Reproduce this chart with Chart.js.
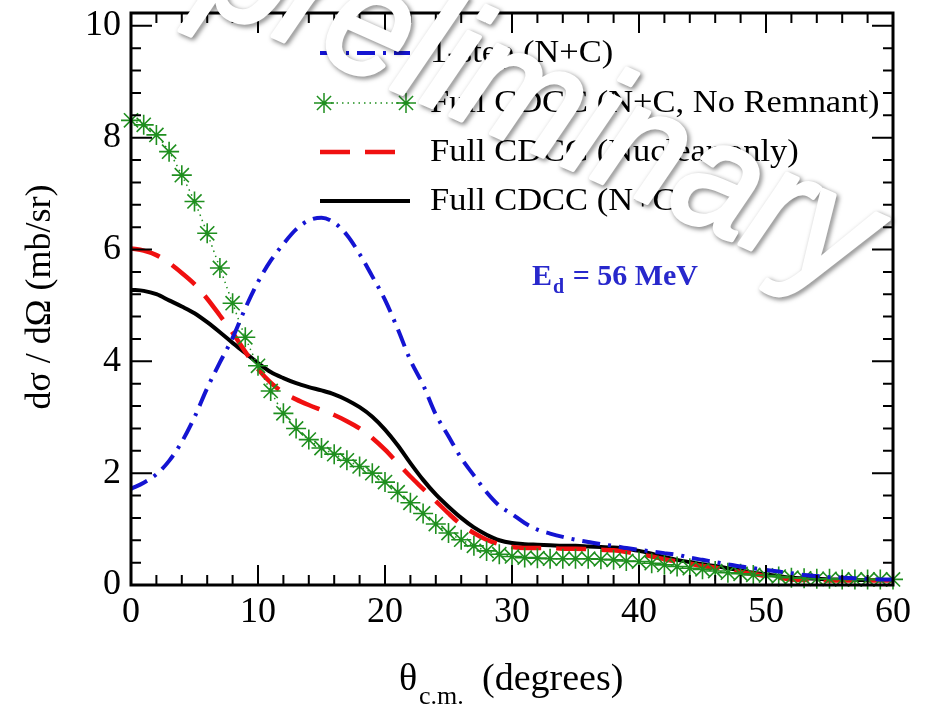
<!DOCTYPE html>
<html>
<head>
<meta charset="utf-8">
<script src="https://cdn.jsdelivr.net/npm/chart.js@4/dist/chart.umd.min.js"></script>
<style>
html,body{margin:0;padding:0;background:#fff;}
#wrap{width:929px;height:706px;position:relative;}
</style>
</head>
<body>
<div id="wrap"><canvas id="c" width="929" height="706"></canvas></div>
<script>
// ---- data ----
const theta = [0,1,2,3,4,5,6,7,8,9,10,11,12,13,14,15,16,17,18,19,20,21,22,23,24,25,26,27,28,29,30,31,32,33,34,35,36,37,38,39,40,41,42,43,44,45,46,47,48,49,50,51,52,53,54,55,56,57,58,59,60];
const oneStep = [1.72,1.83,1.98,2.22,2.56,3.00,3.52,3.98,4.42,4.95,5.42,5.80,6.10,6.36,6.52,6.57,6.48,6.26,5.92,5.52,5.10,4.58,4.02,3.58,3.05,2.66,2.27,1.96,1.66,1.42,1.27,1.11,0.99,0.92,0.86,0.81,0.77,0.73,0.70,0.66,0.63,0.60,0.57,0.54,0.49,0.45,0.41,0.37,0.33,0.30,0.27,0.24,0.21,0.18,0.16,0.14,0.13,0.12,0.11,0.10,0.10];
const noRemnant = [8.31,8.23,8.05,7.75,7.33,6.86,6.29,5.67,5.04,4.43,3.92,3.47,3.07,2.80,2.60,2.45,2.34,2.23,2.12,2.00,1.84,1.66,1.47,1.28,1.09,0.93,0.81,0.70,0.61,0.55,0.51,0.49,0.48,0.47,0.47,0.47,0.47,0.46,0.45,0.43,0.42,0.39,0.36,0.33,0.30,0.28,0.25,0.22,0.20,0.18,0.17,0.15,0.13,0.12,0.11,0.11,0.10,0.10,0.10,0.10,0.10];
const nuclearOnly = [6.02,5.98,5.90,5.76,5.58,5.38,5.12,4.82,4.51,4.17,3.86,3.62,3.44,3.32,3.22,3.13,3.04,2.93,2.80,2.63,2.42,2.18,1.94,1.72,1.50,1.28,1.08,0.93,0.81,0.73,0.68,0.66,0.66,0.66,0.65,0.65,0.64,0.63,0.62,0.59,0.55,0.51,0.46,0.42,0.38,0.34,0.31,0.27,0.23,0.20,0.16,0.13,0.10,0.09,0.09,0.08,0.08,0.08,0.08,0.08,0.08];
const fullNC = [5.28,5.26,5.20,5.09,4.98,4.86,4.70,4.52,4.33,4.15,3.97,3.81,3.70,3.61,3.54,3.48,3.41,3.31,3.18,3.01,2.78,2.50,2.18,1.88,1.62,1.40,1.20,1.03,0.90,0.80,0.75,0.73,0.72,0.71,0.70,0.70,0.69,0.68,0.67,0.65,0.61,0.56,0.50,0.45,0.41,0.37,0.34,0.30,0.26,0.22,0.19,0.16,0.13,0.12,0.11,0.10,0.10,0.09,0.09,0.09,0.09];
const seriesLabels = ["1-step (N+C)","Full CDCC (N+C, No Remnant)","Full CDCC (Nuclear only)","Full CDCC (N+C)"];
const xTicks = [0,10,20,30,40,50,60];
const yTicks = [0,2,4,6,8,10];
const xRange = [0,60];
const yRange = [0,10.23];
const energyLabel = ["E","d"," = 56 MeV"];
const watermarkText = "preliminary";

const pts = arr => theta.map((t,i)=>({x:t,y:arr[i]}));
const SERIF = '"Liberation Serif","DejaVu Serif",serif';
const BLUE = '#1414d2', GREEN = '#1f8f1f', RED = '#f01010', BLACK = '#000';

const datasets = [
  {label:seriesLabels[0], data:pts(oneStep), borderColor:BLUE, borderWidth:4, borderDash:[18,8,3,8], pointRadius:0, tension:0.4, cubicInterpolationMode:'monotone', fill:false},
  {label:seriesLabels[1], data:pts(noRemnant), borderColor:GREEN, borderWidth:1.5, borderDash:[1.5,4], pointStyle:'star', pointRadius:10, pointBorderColor:GREEN, pointBorderWidth:1.6, pointBackgroundColor:GREEN, tension:0.4, cubicInterpolationMode:'monotone', fill:false, clip:false},
  {label:seriesLabels[2], data:pts(nuclearOnly), borderColor:RED, borderWidth:4.5, borderDash:[30,15], pointRadius:0, tension:0.4, cubicInterpolationMode:'monotone', fill:false},
  {label:seriesLabels[3], data:pts(fullNC), borderColor:BLACK, borderWidth:4, pointRadius:0, tension:0.4, cubicInterpolationMode:'monotone', fill:false}
];

const framePlugin = {
  id:'frame',
  afterDatasetsDraw(chart){
    const {ctx, chartArea:a, scales:{x,y}} = chart;
    ctx.save();
    ctx.strokeStyle='#000';
    ctx.lineWidth=2;
    ctx.beginPath();
    for(let k=0; k<=30; k++){
      const v = xRange[0]+k*2;
      const px = x.getPixelForValue(v);
      const len = (k%5===0)?20:10;
      ctx.moveTo(px,a.bottom); ctx.lineTo(px,a.bottom-len);
      ctx.moveTo(px,a.top); ctx.lineTo(px,a.top+len);
    }
    for(let k=0; k<=25; k++){
      const v = k*0.4;
      const py = y.getPixelForValue(v);
      const len = (k%5===0)?21:10;
      ctx.moveTo(a.left,py); ctx.lineTo(a.left+len,py);
      ctx.moveTo(a.right,py); ctx.lineTo(a.right-len,py);
    }
    ctx.stroke();
    ctx.lineWidth=3;
    ctx.strokeRect(a.left,a.top,a.right-a.left,a.bottom-a.top);
    ctx.restore();
  },
  afterDraw(chart){
    const {ctx} = chart;
    ctx.save();
    // axis titles
    ctx.fillStyle='#000';
    ctx.textBaseline='alphabetic';
    ctx.textAlign='left';
    ctx.font='38px '+SERIF;
    ctx.fillText('θ',399,690);
    ctx.font='26px '+SERIF;
    ctx.fillText('c.m.',419,704);
    ctx.font='38px '+SERIF;
    ctx.fillText('(degrees)',482,690);
    ctx.save();
    ctx.translate(41,297);
    ctx.rotate(-Math.PI/2);
    ctx.textAlign='center';
    ctx.textBaseline='middle';
    ctx.font='36px '+SERIF;
    ctx.fillText('dσ / dΩ (mb/sr)',0,0);
    ctx.restore();

    // legend
    const rows=[53,103,152,201];
    ctx.font='31px '+SERIF;
    const sx = 257/ctx.measureText(seriesLabels[3]).width;
    chart.data.datasets.forEach((ds,i)=>{
      const yy=rows[i];
      ctx.save();
      ctx.strokeStyle=ds.borderColor;
      ctx.lineWidth=ds.borderWidth;
      ctx.setLineDash(ds.borderDash||[]);
      ctx.beginPath(); ctx.moveTo(320,yy); ctx.lineTo(410,yy); ctx.stroke();
      ctx.setLineDash([]);
      if(ds.pointStyle==='star'){
        ctx.strokeStyle=ds.pointBorderColor;
        [324,406].forEach(px=>{
          Chart.helpers.drawPoint(ctx,{pointStyle:'star',radius:10,borderWidth:1.6},px,yy);
        });
      }
      ctx.restore();
      ctx.save();
      ctx.fillStyle='#000';
      ctx.font='31px '+SERIF;
      ctx.textAlign='left';
      ctx.textBaseline='middle';
      ctx.translate(430,yy+1);
      ctx.scale(sx,1);
      ctx.fillText(ds.label,0,0);
      ctx.restore();
    });

    // energy label
    ctx.fillStyle='#2828cc';
    ctx.textBaseline='alphabetic';
    ctx.textAlign='left';
    ctx.font='bold 30px '+SERIF;
    ctx.fillText(energyLabel[0],532,285);
    let w=ctx.measureText(energyLabel[0]).width;
    ctx.font='bold 20px '+SERIF;
    ctx.fillText(energyLabel[1],532+w+1,293);
    let w2=ctx.measureText(energyLabel[1]).width;
    ctx.font='bold 30px '+SERIF;
    ctx.fillText(energyLabel[2],532+w+w2+2,285);

    // watermark
    ctx.save();
    ctx.translate(196,2);
    ctx.rotate(24*Math.PI/180);
    ctx.scale(1,1.08);
    ctx.font='italic 146px "Liberation Sans","DejaVu Sans",sans-serif';
    ctx.textAlign='left';
    ctx.textBaseline='alphabetic';
    ctx.lineJoin='round';
    ctx.shadowColor='rgba(0,0,0,0.6)';
    ctx.shadowBlur=5;
    ctx.shadowOffsetX=2;
    ctx.shadowOffsetY=2;
    ctx.strokeStyle='#ffffff';
    ctx.lineWidth=4;
    ctx.strokeText(watermarkText,0,0);
    ctx.shadowColor='rgba(0,0,0,0)';
    ctx.fillStyle='#ffffff';
    ctx.fillText(watermarkText,0,0);
    ctx.restore();
    ctx.restore();
  }
};

new Chart(document.getElementById('c'),{
  type:'line',
  data:{datasets},
  options:{
    responsive:false,
    animation:false,
    events:[],
    layout:{padding:{top:13,right:36,left:0,bottom:0}},
    plugins:{legend:{display:false},tooltip:{enabled:false}},
    scales:{
      x:{type:'linear',min:xRange[0],max:xRange[1],
        afterFit:s=>{s.height=121;s.paddingLeft=0;s.paddingRight=0;},
        afterBuildTicks:s=>{s.ticks=xTicks.map(v=>({value:v}));},
        grid:{display:false,drawTicks:false},border:{display:false},
        ticks:{color:'#000',padding:6,maxRotation:0,autoSkip:false,font:{family:SERIF,size:36}}},
      y:{type:'linear',min:yRange[0],max:yRange[1],
        afterFit:s=>{s.width=131;s.paddingTop=0;s.paddingBottom=0;},
        afterBuildTicks:s=>{s.ticks=yTicks.map(v=>({value:v}));},
        grid:{display:false,drawTicks:false},border:{display:false},
        ticks:{color:'#000',padding:10,autoSkip:false,font:{family:SERIF,size:36}}}
    }
  },
  plugins:[framePlugin]
});
</script>
</body>
</html>
